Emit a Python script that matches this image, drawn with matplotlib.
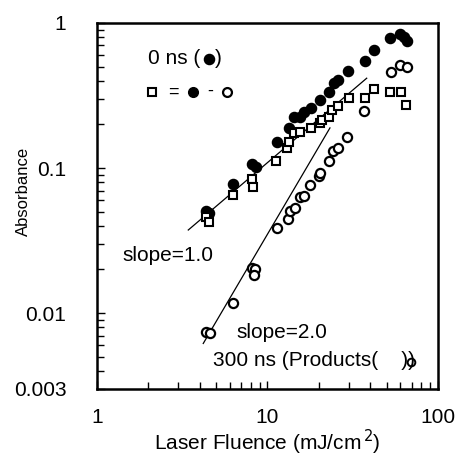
import matplotlib
matplotlib.use("Agg")
import matplotlib.pyplot as plt
from matplotlib.ticker import LogLocator, NullFormatter

plt.rcParams['font.family'] = ['Liberation Sans', 'DejaVu Sans']

# 0 ns absorbance (filled circles)
fluence_0ns = [4.38, 4.56, 6.27, 8.13, 8.56, 11.3, 13.3, 14.3, 15.6, 16.4, 18.1,
               20.3, 22.9, 24.5, 25.9, 29.8, 37.2, 41.9, 52.4, 60.0, 62.8, 65.7]
abs_0ns = [0.0509, 0.049, 0.0782, 0.1074, 0.102, 0.151, 0.189, 0.226, 0.226, 0.245, 0.258,
           0.294, 0.336, 0.384, 0.404, 0.467, 0.547, 0.646, 0.784, 0.84, 0.797, 0.755]

# difference 0 ns - 300 ns (open squares)
fluence_diff = [4.38, 4.51, 6.27, 8.16, 8.27, 11.2, 13.1, 13.3, 14.3, 15.6, 18.1,
                20.3, 21.0, 22.9, 24.0, 25.9, 30.1, 37.2, 41.9, 52.4, 61.1, 64.8]
abs_diff = [0.0462, 0.0428, 0.0651, 0.084, 0.0743, 0.1117, 0.1374, 0.152, 0.1735, 0.178, 0.188,
            0.203, 0.214, 0.226, 0.251, 0.268, 0.305, 0.303, 0.351, 0.336, 0.336, 0.272]

# 300 ns products (open circles)
fluence_300ns = [4.35, 4.62, 6.27, 8.08, 8.50, 8.33, 11.3, 13.2, 13.6, 14.6, 15.6, 16.3,
                 17.7, 20.1, 20.3, 22.9, 24.3, 25.9, 29.1, 36.9, 52.9, 60.0, 65.7]
abs_300ns = [0.00743, 0.00731, 0.01178, 0.0206, 0.020, 0.01845, 0.0384, 0.0443, 0.0508, 0.0527,
             0.0634, 0.0641, 0.0764, 0.0877, 0.0929, 0.112, 0.1316, 0.1367, 0.163, 0.249,
             0.461, 0.513, 0.50]

# guide lines
slope1_x = [3.43, 38.2]
slope1_y = [0.0374, 0.416]
slope2_x = [4.20, 23.25]
slope2_y = [0.00618, 0.189]

fig = plt.figure(figsize=(4.57, 4.57), dpi=100)
ax = fig.add_axes([0.2123, 0.1488, 0.746, 0.801])

ax.plot(slope1_x, slope1_y, color='black', lw=0.9, zorder=1)
ax.plot(slope2_x, slope2_y, color='black', lw=0.9, zorder=1)
ax.plot(fluence_0ns, abs_0ns, 'o', color='black', ms=7.3, zorder=2)
ax.plot(fluence_diff, abs_diff, 's', mfc='white', mec='black', mew=1.5, ms=6.2, zorder=3)
ax.plot(fluence_300ns, abs_300ns, 'o', mfc='white', mec='black', mew=1.6, ms=6.6, zorder=3)

ax.set_xscale('log')
ax.set_yscale('log')
ax.set_xlim(1, 100)
ax.set_ylim(0.003, 1)
ax.set_xticks([1, 10, 100])
ax.set_xticklabels(['1', '10', '100'])
ax.set_yticks([0.003, 0.01, 0.1, 1])
ax.set_yticklabels(['0.003', '0.01', '0.1', '1'])
ax.xaxis.set_minor_locator(LogLocator(base=10, subs=range(2, 10)))
ax.yaxis.set_minor_locator(LogLocator(base=10, subs=range(2, 10)))
ax.xaxis.set_minor_formatter(NullFormatter())
ax.yaxis.set_minor_formatter(NullFormatter())
ax.tick_params(which='both', direction='in', top=False, right=False, width=1.0, labelsize=15)
ax.tick_params(which='major', length=6)
ax.tick_params(which='minor', length=5)
ax.tick_params(axis='x', pad=14)
ax.tick_params(axis='y', pad=22)
for s in ax.spines.values():
    s.set_linewidth(1.8)

ax.set_xlabel('Laser Fluence (mJ/cm$^{\\,2}$)', fontsize=15, va='center')
ax.xaxis.set_label_coords(0.5, -0.145)
ax.set_ylabel('Absorbance', fontsize=12, va='center')
ax.yaxis.set_label_coords(-0.215, 0.54)

ax.text(1.415, 0.025, 'slope=1.0', fontsize=15, va='center', ha='left')
ax.text(6.57, 0.00731, 'slope=2.0', fontsize=15, va='center', ha='left')

# hand-made key in the upper left
ax.text(0.15, 0.904, '0 ns (', transform=ax.transAxes, fontsize=15, va='center', ha='left')
ax.text(0.345, 0.904, ')', transform=ax.transAxes, fontsize=15, va='center', ha='left')
ax.plot([0.328], [0.902], 'o', color='black', ms=7.3, transform=ax.transAxes, clip_on=False)
ax.plot([0.161], [0.811], 's', mfc='white', mec='black', mew=1.5, ms=6.0, transform=ax.transAxes)
ax.text(0.223, 0.811, '=', transform=ax.transAxes, fontsize=13, va='center', ha='center')
ax.plot([0.2815], [0.811], 'o', color='black', ms=7.0, transform=ax.transAxes)
ax.text(0.331, 0.813, '-', transform=ax.transAxes, fontsize=13, va='center', ha='center')
ax.plot([0.381], [0.811], 'o', mfc='white', mec='black', mew=1.6, ms=6.4, transform=ax.transAxes)

ax.text(0.34, 0.0765, '300 ns (Products(    ))', transform=ax.transAxes, fontsize=15, va='center', ha='left')
ax.plot([0.921], [0.0746], 'o', mfc='none', mec='black', mew=1.4, ms=5.5, transform=ax.transAxes)

fig.savefig('out.png', dpi=100)
